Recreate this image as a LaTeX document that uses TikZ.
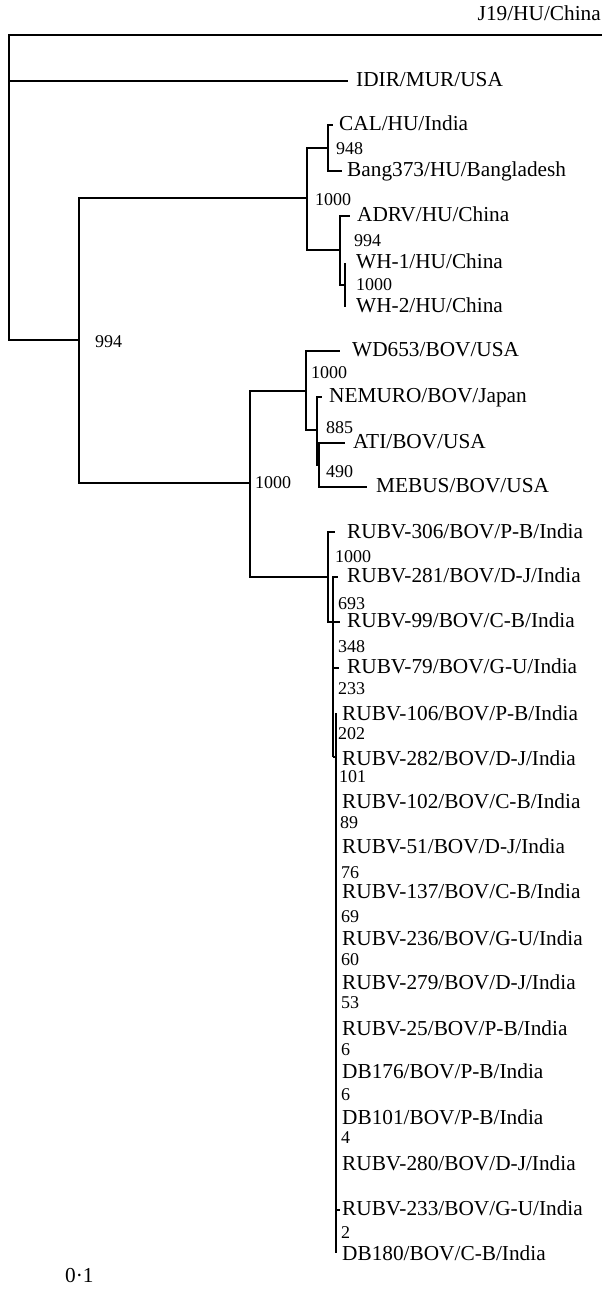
\documentclass[tikz,border=0pt]{standalone}
\usepackage{fontspec}
\setmainfont{Liberation Serif}
\begin{document}
\begin{tikzpicture}[x=1pt,y=-1pt,
  br/.style={line width=1.6pt},
  lab/.style={anchor=west, inner sep=0pt, yshift=-3.5pt, text height=0.69em, text depth=0.22em, font=\fontsize{21.3}{24}\selectfont},
  bs/.style={anchor=west, inner sep=0pt, yshift=-3.5pt, text height=0.69em, text depth=0.22em, font=\fontsize{18}{20}\selectfont}]
\useasboundingbox (0,0) rectangle (602,1289);
% internal nodes
\coordinate (R) at (9,187);
\coordinate (A) at (79,340);
\coordinate (B) at (307,198);
\coordinate (B1) at (328,148);
\coordinate (B2) at (340,250);
\coordinate (B3) at (345,285);
\coordinate (C) at (250,483);
\coordinate (D) at (306,391);
\coordinate (E) at (317,430);
\coordinate (F) at (319,465);
\coordinate (G) at (328,577);
\coordinate (H1) at (333,622);
\coordinate (H2) at (333,757);
\coordinate (H3) at (336,757);
% tips
\coordinate (tJ19) at (602,35);
\coordinate (tIDIR) at (348,81);
\coordinate (tCAL) at (333,125);
\coordinate (tBang) at (342,171);
\coordinate (tADRV) at (350,216);
\coordinate (tWH1) at (345,263);
\coordinate (tWH2) at (345,307);
\coordinate (tWD) at (340,351);
\coordinate (tNEM) at (322,397);
\coordinate (tATI) at (345,443);
\coordinate (tMEB) at (367,487);
\coordinate (t306) at (335,532);
\coordinate (t281) at (338,577);
\coordinate (t99) at (340,622);
\coordinate (t79) at (339,668);
\coordinate (t106) at (336,713);
\coordinate (t233) at (340,1210);
\coordinate (t180) at (336,1253);
% branches
\draw[br] (R) |- (tJ19);
\draw[br] (R) |- (tIDIR);
\draw[br] (R) |- (A);
\draw[br] (A) |- (B);
\draw[br] (A) |- (C);
\draw[br] (B) |- (B1);
\draw[br] (B) |- (B2);
\draw[br] (B1) |- (tCAL);
\draw[br] (B1) |- (tBang);
\draw[br] (B2) |- (tADRV);
\draw[br] (B2) |- (B3);
\draw[br] (B3) |- (tWH1);
\draw[br] (B3) |- (tWH2);
\draw[br] (C) |- (D);
\draw[br] (C) |- (G);
\draw[br] (D) |- (tWD);
\draw[br] (D) |- (E);
\draw[br] (E) |- (tNEM);
\draw[br] (E) |- (F);
\draw[br] (F) |- (tATI);
\draw[br] (F) |- (tMEB);
\draw[br] (G) |- (t306);
\draw[br] (G) |- (H1);
\draw[br] (H1) |- (t281);
\draw[br] (H1) -- (t99);
\draw[br] (H1) -- (H2);
\draw[br] (H2) |- (t79);
\draw[br] (H2) -- (H3);
\draw[br] (H3) |- (t106);
\draw[br] (H3) |- (t233);
\draw[br] (H3) |- (t180);
% leaf labels
\node[lab, anchor=east] (lJ19) at (601,15) {J19/HU/China};
\node[lab] (lIDIR) at (356,81) {IDIR/MUR/USA};
\node[lab] (lCAL) at (339,125) {CAL/HU/India};
\node[lab] (lBang) at (347,171) {Bang373/HU/Bangladesh};
\node[lab] (lADRV) at (357,216) {ADRV/HU/China};
\node[lab] (lWH1) at (356,263) {WH-1/HU/China};
\node[lab] (lWH2) at (356,307) {WH-2/HU/China};
\node[lab] (lWD) at (352,351) {WD653/BOV/USA};
\node[lab] (lNEM) at (329,397) {NEMURO/BOV/Japan};
\node[lab] (lATI) at (353,443) {ATI/BOV/USA};
\node[lab] (lMEB) at (376,487) {MEBUS/BOV/USA};
\node[lab] (l306) at (347,533) {RUBV-306/BOV/P-B/India};
\node[lab] (l281) at (347,577) {RUBV-281/BOV/D-J/India};
\node[lab] (l99) at (347,622) {RUBV-99/BOV/C-B/India};
\node[lab] (l79) at (347,668) {RUBV-79/BOV/G-U/India};
\node[lab] (l106) at (342,715) {RUBV-106/BOV/P-B/India};
\node[lab] (l282) at (342,760) {RUBV-282/BOV/D-J/India};
\node[lab] (l102) at (342,803) {RUBV-102/BOV/C-B/India};
\node[lab] (l51) at (342,848) {RUBV-51/BOV/D-J/India};
\node[lab] (l137) at (342,893) {RUBV-137/BOV/C-B/India};
\node[lab] (l236) at (342,940) {RUBV-236/BOV/G-U/India};
\node[lab] (l279) at (342,984) {RUBV-279/BOV/D-J/India};
\node[lab] (l25) at (342,1030) {RUBV-25/BOV/P-B/India};
\node[lab] (lDB176) at (342,1073) {DB176/BOV/P-B/India};
\node[lab] (lDB101) at (342,1119) {DB101/BOV/P-B/India};
\node[lab] (l280) at (342,1165) {RUBV-280/BOV/D-J/India};
\node[lab] (l233) at (342,1210) {RUBV-233/BOV/G-U/India};
\node[lab] (lDB180) at (342,1255) {DB180/BOV/C-B/India};
% bootstrap values
\node[bs] (bA) at (95,342) {994};
\node[bs] (bB) at (315,200) {1000};
\node[bs] (bB1) at (336,149) {948};
\node[bs] (bB2) at (354,241) {994};
\node[bs] (bB3) at (356,285) {1000};
\node[bs] (bC) at (255,483) {1000};
\node[bs] (bD) at (311,373) {1000};
\node[bs] (bE) at (326,428) {885};
\node[bs] (bF) at (326,472) {490};
\node[bs] (bG) at (335,557) {1000};
\node[bs] (b693) at (338,604) {693};
\node[bs] (b348) at (338,647) {348};
\node[bs] (b233) at (338,689) {233};
\node[bs] (b202) at (338,734) {202};
\node[bs] (b101) at (339,777) {101};
\node[bs] (b89) at (340,823) {89};
\node[bs] (b76) at (341,873) {76};
\node[bs] (b69) at (341,917) {69};
\node[bs] (b60) at (341,960) {60};
\node[bs] (b53) at (341,1003) {53};
\node[bs] (b6a) at (341,1050) {6};
\node[bs] (b6b) at (341,1095) {6};
\node[bs] (b4) at (341,1138) {4};
\node[bs] (b2) at (341,1233) {2};
% scale label
\node[lab] (scale) at (65,1277) {0·1};
\end{tikzpicture}
\end{document}
